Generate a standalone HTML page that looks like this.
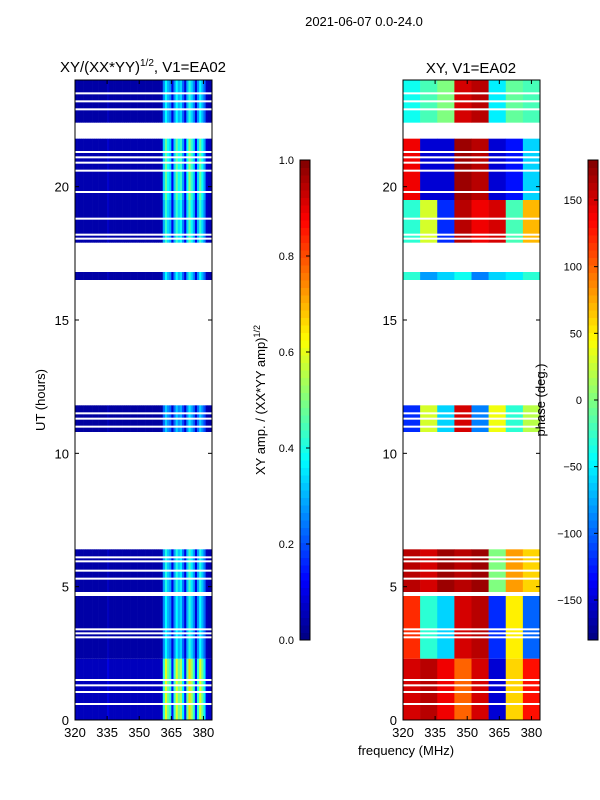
<!DOCTYPE html>
<html><head><meta charset="utf-8"><style>
html,body{margin:0;padding:0;background:#fff;}
svg{display:block;font-family:"Liberation Sans",sans-serif;}
</style></head><body>
<svg id="fig" width="600" height="800" viewBox="0 0 600 800" xmlns="http://www.w3.org/2000/svg">
<text x="364" y="26" font-size="13" text-anchor="middle">2021-06-07 0.0-24.0</text>
<text x="143" y="72" font-size="15" text-anchor="middle">XY/(XX*YY)<tspan font-size="10" dy="-6">1/2</tspan><tspan dy="6">, V1=EA02</tspan></text>
<text x="471" y="73" font-size="15" text-anchor="middle">XY, V1=EA02</text>
<text x="406" y="755" font-size="13" text-anchor="middle">frequency (MHz)</text>
<text transform="translate(45,400) rotate(-90)" font-size="13" text-anchor="middle">UT (hours)</text>
<text transform="translate(265,400) rotate(-90)" font-size="13" text-anchor="middle">XY amp. / (XX*YY amp)<tspan font-size="9" dy="-5">1/2</tspan></text>
<g id="left"></g>
<g id="right"></g>
<g id="axes"></g>
<g id="cbars"></g>
<text transform="translate(545,400) rotate(-90)" font-size="13" text-anchor="middle">phase (deg.)</text>
</svg>
<script>
// data
const fMin = 320, fMax = 384;
const tMin = 0, tMax = 24;
const xTicks = [320, 335, 350, 365, 380];
const yTicks = [0, 5, 10, 15, 20];
// time bands with data [start, end] hours
const bandStart = [0, 2.3, 4.8, 10.8, 16.5, 17.9, 19.5, 22.4];
const bandEnd   = [2.3, 4.65, 6.4, 11.8, 16.8, 19.5, 21.8, 24];
// amplitude per-band scaling
const bandAmp = [1.2, 0.75, 0.8, 0.65, 0.75, 0.85, 0.95, 0.75];
// channel amplitude profile, 1 MHz channels from 320 to 384
const chanAmp = [0.05,0.05,0.05,0.05,0.05,0.05,0.05,0.05,0.05,0.05,0.05,0.05,0.05,0.05,0.05,0.08,0.05,0.05,0.05,0.05,
 0.05,0.05,0.05,0.05,0.05,0.05,0.05,0.05,0.05,0.05,0.05,0.05,0.05,0.05,0.05,0.05,0.05,0.05,0.05,0.05,
 0.06,0.35,0.5,0.4,0.35,0.12,0.35,0.5,0.4,0.45,0.3,0.12,0.4,0.55,0.45,0.35,0.12,0.35,0.5,0.4,0.3,0.08,0.06,0.06];
// phase grid: 8 frequency columns per band (deg)
const phase0 = [150, 160, 140, 100, 150, -150, 60, 130];
const phase1 = [120, -30, -60, 150, 160, -120, 50, -100];
const phase2 = [160, 150, 170, 160, 170, 0, 80, 60];
const phase3 = [-120, 30, -60, 150, -90, 40, -30, 20];
const phase4 = [-30, -80, -60, -40, -90, -60, -50, -30];
const phase5 = [-30, 30, -120, 160, 140, 150, -20, 70];
const phase6 = [140, -150, -150, 170, 160, -150, -130, -60];
const phase7 = [-40, -20, 0, 150, 160, -50, -10, -20];
const phaseGrid = [phase0, phase1, phase2, phase3, phase4, phase5, phase6, phase7];
// flagged (white line) hours
const flagged = [0.6, 1.05, 1.3, 1.5, 3.1, 3.25, 3.4, 4.7, 5.3, 5.6, 5.95, 6.1, 11.0, 11.3, 11.5, 18.05, 18.2, 18.8, 19.8, 20.6, 20.9, 21.1, 21.3, 22.9, 23.2, 23.5];

const NS = "http://www.w3.org/2000/svg";
function jet(v){
  const r = Math.min(Math.max(Math.min(4*v-1.5, -4*v+4.5),0),1);
  const g = Math.min(Math.max(Math.min(4*v-0.5, -4*v+3.5),0),1);
  const b = Math.min(Math.max(Math.min(4*v+0.5, -4*v+2.5),0),1);
  return `rgb(${Math.round(r*255)},${Math.round(g*255)},${Math.round(b*255)})`;
}
function mk(tag, attrs, parent){ const e=document.createElementNS(NS,tag); for(const k in attrs) e.setAttribute(k,attrs[k]); parent.appendChild(e); return e; }
const panels = [{x0:75,x1:212},{x0:403,x1:540}];
const yTop=80, yBot=720;
function yScale(h){ return yBot - (h - tMin)/(tMax - tMin)*(yBot - yTop); }
function xScale(p,f){ return p.x0 + (f - fMin)/(fMax - fMin)*(p.x1 - p.x0); }

const L = document.getElementById('left'), R = document.getElementById('right');
bandStart.forEach((s,i)=>{
  const e = bandEnd[i];
  chanAmp.forEach((a,c)=>{
    const r = mk('rect',{x:xScale(panels[0],fMin+c),y:yScale(e),width:(panels[0].x1-panels[0].x0)/chanAmp.length+0.3,height:yScale(s)-yScale(e),fill:jet(Math.min(a*bandAmp[i],1))},L);
    
    
  });
  const row = phaseGrid[i];
  row.forEach((ph,c)=>{
    const w = (fMax-fMin)/row.length;
    const r = mk('rect',{x:xScale(panels[1],fMin+c*w),y:yScale(e),width:(panels[1].x1-panels[1].x0)/row.length+0.3,height:yScale(s)-yScale(e),fill:jet((ph+180)/360)},R);
    
    
  });
});
flagged.forEach(h=>{
  panels.forEach(p=>{
    const r = mk('rect',{x:p.x0,y:yScale(h)-1,width:p.x1-p.x0,height:2,fill:'#fff'},p===panels[0]?L:R);
    
    
  });
});
const A = document.getElementById('axes');
panels.forEach((p,pi)=>{
  const fr = mk('rect',{x:p.x0,y:yTop,width:p.x1-p.x0,height:yBot-yTop,fill:'none',stroke:'#000','stroke-width':1},A);
  
  
  xTicks.forEach(t=>{
    const x = xScale(p,t);
    mk('line',{x1:x,x2:x,y1:yBot,y2:yBot-4,stroke:'#000'},A);
    mk('line',{x1:x,x2:x,y1:yTop,y2:yTop+4,stroke:'#000'},A);
    const tx = mk('text',{x:x,y:yBot+17,'font-size':13,'text-anchor':'middle'},A);
    tx.textContent = t;
    
    
  });
  yTicks.forEach(t=>{
    const y = yScale(t);
    mk('line',{x1:p.x0,x2:p.x0+4,y1:y,y2:y,stroke:'#000'},A);
    mk('line',{x1:p.x1,x2:p.x1-4,y1:y,y2:y,stroke:'#000'},A);
    const tx = mk('text',{x:p.x0-6,y:y+5,'font-size':13,'text-anchor':'end'},A);
    tx.textContent = t;
    
    
  });
});
const C = document.getElementById('cbars');
const cbTop=160, cbBot=640;
const ampTicks = [0.0,0.2,0.4,0.6,0.8,1.0];
const phaseTicks = [-150,-100,-50,0,50,100,150];
const cbs = [{x:300,min:0,max:1,ticks:ampTicks,fmt:t=>t.toFixed(1),name:'amp-colorbar'},{x:588,min:-180,max:180,ticks:phaseTicks,fmt:t=>(t<0?'\u2212'+(-t):''+t),name:'phase-colorbar'}];
cbs.forEach(cb=>{
  const g = mk('g',{},C);
  
  
  const n=64;
  for(let i=0;i<n;i++){
    const y = cbBot - (i+1)*(cbBot-cbTop)/n;
    mk('rect',{x:cb.x,y:y,width:10,height:(cbBot-cbTop)/n+0.5,fill:jet((i+0.5)/n)},g);
  }
  mk('rect',{x:cb.x,y:cbTop,width:10,height:cbBot-cbTop,fill:'none',stroke:'#000'},g);
  cb.ticks.forEach(t=>{
    const y = cbBot - (t-cb.min)/(cb.max-cb.min)*(cbBot-cbTop);
    mk('line',{x1:cb.x+10,x2:cb.x+6,y1:y,y2:y,stroke:'#000'},g);
    const tx = mk('text',{x:cb.x-6,y:y+4,'font-size':11,'text-anchor':'end'},g);
    tx.textContent = cb.fmt(t);
    
    
  });
});
</script>
</body></html>
